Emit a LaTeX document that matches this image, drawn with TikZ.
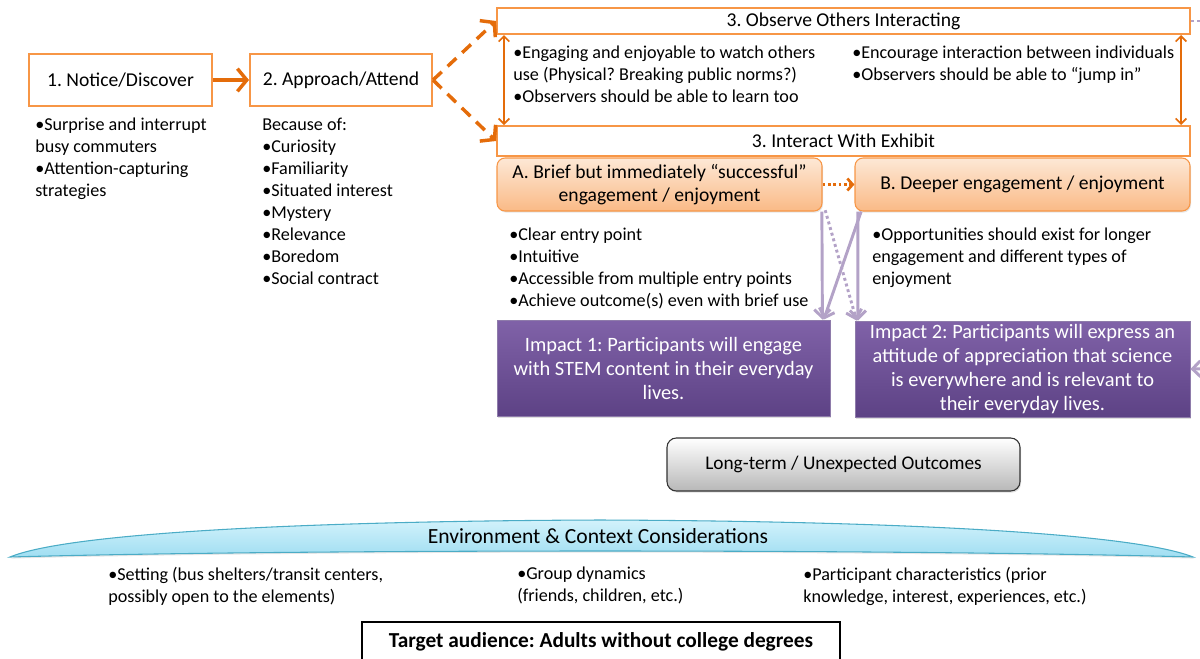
\documentclass[tikz,border=0pt]{standalone}
\usepackage{fontspec}
\setmainfont{Carlito}
\usetikzlibrary{arrows.meta,shadows}
\frenchspacing

\definecolor{boxOrange}{RGB}{247,150,70}
\definecolor{arrOrange}{RGB}{228,108,10}
\definecolor{peachTop}{RGB}{253,232,214}
\definecolor{peachBot}{RGB}{250,186,134}
\definecolor{impTop}{RGB}{128,98,168}
\definecolor{impBot}{RGB}{93,66,133}
\definecolor{arrPurple}{RGB}{179,162,199}
\definecolor{envTop}{RGB}{210,242,251}
\definecolor{envBot}{RGB}{160,222,242}
\definecolor{envLine}{RGB}{75,172,198}

\begin{document}
\begin{tikzpicture}[x=0.75pt,y=0.75pt,yscale=-1,xscale=1,
  every node/.style={font=\fontsize{14.7}{17.25}\selectfont},
  stage/.style={draw=boxOrange, line width=1.5pt, fill=white, inner sep=0pt},
  phase/.style={draw=boxOrange, line width=0.8pt, rounded corners=6pt, top color=peachTop, bottom color=peachBot,
    inner sep=0pt, align=center,
    drop shadow={opacity=0.2, shadow xshift=0.8pt, shadow yshift=-1.2pt}},
  impact/.style={draw=impBot!70!white, line width=0.6pt, top color=impTop, bottom color=impBot, text=white,
    inner sep=0pt, align=center, font=\fontsize{15.3}{18}\selectfont,
    drop shadow={opacity=0.25, shadow xshift=0.8pt, shadow yshift=-1.2pt}},
  outcome/.style={draw=black!80, line width=0.8pt, rounded corners=7pt, top color=white, bottom color=black!28,
    inner sep=0pt, font=\fontsize{14.5}{17}\selectfont,
    drop shadow={opacity=0.25, shadow xshift=0.8pt, shadow yshift=-1.2pt}},
  notes/.style={anchor=north west, yshift=8.55pt, align=left, inner sep=0pt,
    font=\fontsize{13.6}{16.5}\selectfont, execute at begin node=\strut},
  flow/.style={arrOrange, line width=2.6pt, -{Straight Barb[length=7pt,width=17pt,line width=2.6pt]}},
  branch/.style={flow, dash pattern=on 9pt off 6pt},
  swap/.style={arrOrange, line width=1.3pt, {Straight Barb[length=4pt,width=8pt,line width=1.3pt]}-{Straight Barb[length=4pt,width=8pt,line width=1.3pt]}},
  link/.style={arrPurple, line width=2.2pt, -{Straight Barb[length=6pt,width=12pt,line width=2.2pt]}}
]
\clip (0,0) rectangle (1200,658);

% Stage 1 and 2
\node [stage, minimum width=137.25pt, minimum height=39pt] (notice) at (120.5,80) {1. Notice/Discover};
\node [stage, minimum width=136.5pt, minimum height=39pt] (approach) at (341,80) {2. Approach/Attend};
\draw [flow] (notice) -- (approach);

\node [notes] (noticenotes) at (35,129) {•Surprise and interrupt\\busy commuters\\•Attention-capturing\\strategies};
\node [notes] (approachnotes) at (262,129) {Because of:\\•Curiosity\\•Familiarity\\•Situated interest\\•Mystery\\•Relevance\\•Boredom\\•Social contract};

% Stage 3: observe / interact
\node [stage, minimum width=519.75pt, minimum height=19.5pt] (observe) at (843.5,21) {3. Observe Others Interacting};
\node [stage, minimum width=519.75pt, minimum height=22.5pt] (interact) at (843.5,141) {3. Interact With Exhibit};
\draw [branch] (approach.east) -- (observe.west);
\draw [branch] (approach.east) -- (interact.west);
\draw [swap] ([xshift=6pt]observe.south west) -- ([xshift=6pt]interact.north west);
\draw [swap] ([xshift=-7.5pt]observe.south east) -- ([xshift=-7.5pt]interact.north east);

\node [notes] (observenotesL) at (513,57) {•Engaging and enjoyable to watch others\\use (Physical? Breaking public norms?)\\•Observers should be able to learn too};
\node [notes] (observenotesR) at (852,57) {•Encourage interaction between individuals\\•Observers should be able to “jump in”};

% Engagement A and B
\node [phase, minimum width=243.75pt, minimum height=39.75pt] (briefA) at (659.5,184.5) {A. Brief but immediately “successful”\\engagement / enjoyment};
\node [phase, minimum width=251.25pt, minimum height=39.75pt] (deeperB) at (1022.5,184.5) {B. Deeper engagement / enjoyment};
\draw [arrOrange, line width=2pt, dash pattern=on 2pt off 2pt, -{Straight Barb[length=4pt,width=9pt,line width=2pt]}] (briefA) -- (deeperB);

\node [notes] (briefnotes) at (509,239) {•Clear entry point\\•Intuitive\\•Accessible from multiple entry points\\•Achieve outcome(s) even with brief use};
\node [notes] (deepernotes) at (872,239) {•Opportunities should exist for longer\\engagement and different types of\\enjoyment};

% Impacts
\node [impact, minimum width=249.75pt, minimum height=72pt] (impact1) at (663.5,368) {Impact 1: Participants will engage\\with STEM content in their everyday\\lives.};
\node [impact, minimum width=251.25pt, minimum height=72pt] (impact2) at (1022.5,369) {Impact 2: Participants will express an\\attitude of appreciation that science\\is everywhere and is relevant to\\their everyday lives.};

\draw [link] ([xshift=-0.5pt]briefA.south east) -- ([xshift=-6pt]impact1.north east);
\draw [link, dash pattern=on 2.2pt off 2.2pt] ([xshift=2pt,yshift=-1pt]briefA.south east) -- ([xshift=1.5pt]impact2.north west);
\draw [link] ([xshift=5pt]deeperB.south west) -- ([xshift=-5pt]impact1.north east);
\draw [link] ([xshift=2.5pt]deeperB.south west) -- ([xshift=2.5pt]impact2.north west);

\coordinate (offright) at (1235,368);
\coordinate (offtop) at (1235,21);
\draw [link] (offright) -- (impact2.east);
\draw [arrPurple, line width=2.2pt, dash pattern=on 2.2pt off 2.2pt] (observe.east) -- (offtop);

% Long-term outcomes
\node [outcome, minimum width=264.75pt, minimum height=39.75pt] (longterm) at (843.5,464.5) {Long-term / Unexpected Outcomes};

% Environment banner
\draw [envLine, line width=0.8pt, top color=envTop, bottom color=envBot, drop shadow={opacity=0.2, shadow xshift=0.8pt, shadow yshift=-1.2pt}]
  (10,557) .. controls (70,532) and (320,521) .. (600,520) .. controls (880,521) and (1130,532) .. (1193,557)
  .. controls (900,549) and (300,549) .. (10,557) -- cycle;
\node [font=\fontsize{16.2}{18}\selectfont] (envlabel) at (598,536) {Environment \& Context Considerations};

\node [notes] (envnotes1) at (108,578) {•Setting (bus shelters/transit centers,\\possibly open to the elements)};
\node [notes] (envnotes2) at (517,578) {•Group dynamics\\(friends, children, etc.)};
\node [notes] (envnotes3) at (803,578) {•Participant characteristics (prior\\knowledge, interest, experiences, etc.)};

% Audience
\node [draw=black, line width=1.2pt, fill=white, minimum width=358.5pt, minimum height=30pt, font=\fontsize{16}{18}\bfseries] (audience) at (601,642) {Target audience: Adults without college degrees};

\end{tikzpicture}
\end{document}
